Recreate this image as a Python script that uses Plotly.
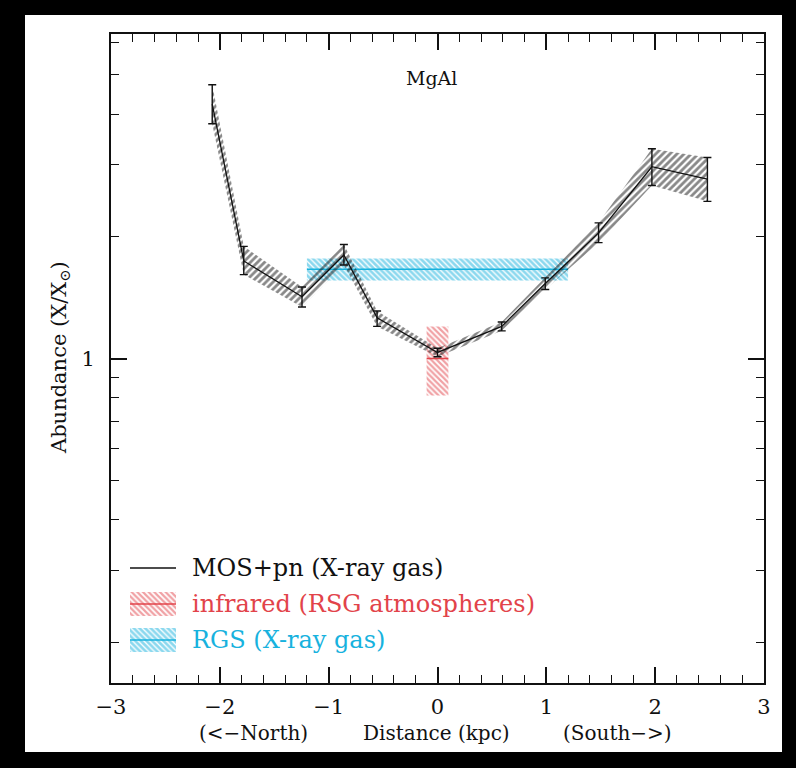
import plotly.graph_objects as go

# ---------------- data ----------------
dist = [-2.07, -1.78, -1.245, -0.86, -0.555, 0.0, 0.59, 0.99, 1.48, 1.97, 2.48]
abund = [4.24, 1.74, 1.42, 1.80, 1.26, 1.035, 1.20, 1.53, 2.04, 2.97, 2.77]
abund_hi = [4.73, 1.89, 1.50, 1.91, 1.31, 1.06, 1.23, 1.58, 2.16, 3.29, 3.13]
abund_lo = [3.79, 1.61, 1.34, 1.70, 1.20, 1.01, 1.17, 1.48, 1.93, 2.67, 2.44]

rgs_x = [-1.2, 1.2]
rgs_val, rgs_lo, rgs_hi = 1.66, 1.556, 1.763

ir_x = [-0.1, 0.1]
ir_val, ir_lo, ir_hi = 1.0, 0.81, 1.2

x_tickvals = [-3, -2, -1, 0, 1, 2, 3]
x_ticktext = ["\u22123", "\u22122", "\u22121", "0", "1", "2", "3"]
y_major = [1]
y_minor = [0.2, 0.3, 0.4, 0.5, 0.6, 0.7, 0.8, 0.9, 2, 3, 4, 5, 6]

legend_labels = ["MOS+pn (X-ray gas)", "infrared (RSG atmospheres)", "RGS (X-ray gas)"]

# ---------------- styling / layout ----------------
W, H = 796, 768
PL, PR, PT, PB = 111, 764, 34, 683      # plot area in pixels
XR = (-3, 3)
YR = (-0.8, 0.8)                         # log10 range
CYAN = "#17b2de"
RED = "#e2434a"
INK = "#111111"
FONT = "DejaVu Serif"


def pxx(px):
    return (px - PL) / (PR - PL)


def pxy(py):
    return (PB - py) / (PB - PT)


def px_to_x(px):
    return XR[0] + pxx(px) * (XR[1] - XR[0])


def py_to_y(py):
    return 10 ** (YR[0] + pxy(py) * (YR[1] - YR[0]))


def band(x0, x1, lo, hi, col, shape, size, sol):
    return go.Scatter(
        x=[x0, x1, x1, x0, x0], y=[lo, lo, hi, hi, lo],
        mode="lines", fill="toself", line=dict(width=0, color=col),
        fillcolor="rgba(0,0,0,0)",
        fillpattern=dict(shape=shape, fgcolor=col, bgcolor="rgba(0,0,0,0)",
                         size=size, solidity=sol),
        showlegend=False, hoverinfo="skip")


fig = go.Figure()

# RGS band
fig.add_trace(band(rgs_x[0], rgs_x[1], rgs_lo, rgs_hi, CYAN, "\\", 4, 0.68))
fig.add_trace(go.Scatter(x=rgs_x, y=[rgs_val, rgs_val], mode="lines",
                         line=dict(color=CYAN, width=1.6), showlegend=False))

# infrared band
fig.add_trace(band(ir_x[0], ir_x[1], ir_lo, ir_hi, RED, "\\", 4, 0.55))
fig.add_trace(go.Scatter(x=ir_x, y=[ir_val, ir_val], mode="lines",
                         line=dict(color=RED, width=1.6), showlegend=False))

# MOS+pn band
fig.add_trace(go.Scatter(
    x=dist + dist[::-1], y=abund_hi + abund_lo[::-1],
    mode="lines", fill="toself", line=dict(width=0, color=INK),
    fillcolor="rgba(0,0,0,0)",
    fillpattern=dict(shape="/", fgcolor=INK, bgcolor="rgba(0,0,0,0)", size=5, solidity=0.55),
    showlegend=False, hoverinfo="skip"))
fig.add_trace(go.Scatter(
    x=dist, y=abund, mode="lines", line=dict(color=INK, width=1.3),
    error_y=dict(type="data", symmetric=False,
                 array=[h - v for h, v in zip(abund_hi, abund)],
                 arrayminus=[v - l for v, l in zip(abund, abund_lo)],
                 color=INK, thickness=1.4, width=4),
    showlegend=False))

# ---------------- custom legend ----------------
LX0, LX1, LTX = 130, 176, 190
LY = [568, 604, 640]
SW_H = 12
fig.add_trace(go.Scatter(x=[px_to_x(LX0), px_to_x(LX1)], y=[py_to_y(LY[0])] * 2,
                         mode="lines", line=dict(color=INK, width=1.3), showlegend=False))
for yy, col, sol in [(LY[1], RED, 0.55), (LY[2], CYAN, 0.68)]:
    fig.add_trace(band(px_to_x(LX0), px_to_x(LX1), py_to_y(yy + SW_H), py_to_y(yy - SW_H),
                       col, "\\", 4, sol))
    fig.add_trace(go.Scatter(x=[px_to_x(LX0), px_to_x(LX1)], y=[py_to_y(yy)] * 2,
                             mode="lines", line=dict(color=col, width=1.6), showlegend=False))

annotations = []
for txt, yy, col in zip(legend_labels, LY, [INK, RED, CYAN]):
    annotations.append(dict(x=pxx(LTX), y=pxy(yy), xref="paper", yref="paper", text=txt,
                            showarrow=False, xanchor="left", yanchor="middle",
                            font=dict(family=FONT, size=24, color=col)))

annotations.append(dict(x=pxx(431), y=pxy(78), xref="paper", yref="paper", text="MgAl",
                        showarrow=False, xanchor="center", yanchor="middle",
                        font=dict(family=FONT, size=19, color=INK)))
for txt, xx in [("(<\u2212North)", 253), ("Distance (kpc)", 436), ("(South\u2212>)", 617)]:
    annotations.append(dict(x=pxx(xx), y=pxy(733), xref="paper", yref="paper", text=txt,
                            showarrow=False, xanchor="center", yanchor="middle",
                            font=dict(family=FONT, size=20, color=INK)))
annotations.append(dict(x=pxx(60), y=pxy(358), xref="paper", yref="paper",
                        text="Abundance (X/X<sub>\u2299</sub>)", showarrow=False, textangle=-90,
                        xanchor="center", yanchor="middle",
                        font=dict(family=FONT, size=21, color=INK)))

# white page inside the black frame
shapes = [dict(type="rect", xref="paper", yref="paper", x0=pxx(25), y0=pxy(752),
               x1=pxx(782), y1=pxy(15), fillcolor="white", line=dict(width=0), layer="below")]

axis_common = dict(showline=True, linecolor=INK, linewidth=1.8, mirror="allticks",
                   ticks="inside", tickcolor=INK, tickwidth=1.5, showgrid=False,
                   zeroline=False)

fig.update_layout(
    width=W, height=H,
    margin=dict(l=PL, r=W - PR, t=PT, b=H - PB, pad=0),
    paper_bgcolor="black", plot_bgcolor="white",
    showlegend=False,
    xaxis=dict(range=list(XR), tickvals=x_tickvals, ticktext=x_ticktext, ticklen=16,
               tickfont=dict(family=FONT, size=21, color=INK), ticklabelstandoff=4,
               minor=dict(dtick=0.2, tick0=0, ticks="inside", ticklen=8, tickcolor=INK,
                          tickwidth=1.3),
               **axis_common),
    yaxis=dict(type="log", range=list(YR), tickvals=y_major, ticktext=["1"], ticklen=16,
               tickfont=dict(family=FONT, size=21, color=INK), ticklabelstandoff=10,
               minor=dict(tickvals=y_minor, ticks="inside", ticklen=8, tickcolor=INK,
                          tickwidth=1.3),
               **axis_common),
    annotations=annotations,
    shapes=shapes,
)

fig.write_html("out.html")
